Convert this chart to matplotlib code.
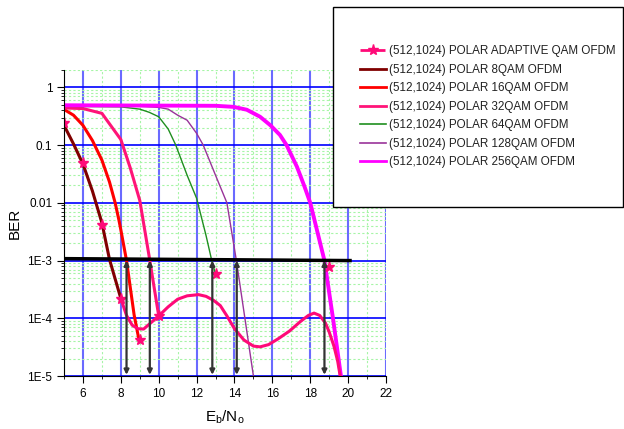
import matplotlib
matplotlib.use('Agg')
import matplotlib.pyplot as plt
from matplotlib.lines import Line2D
from matplotlib.patches import Rectangle

plt.rcParams['font.family'] = ['Liberation Sans', 'DejaVu Sans']

# --- data ---
qam8_x = [5, 5.5, 6, 6.5, 7, 7.4, 8]
qam8_ber = [0.22, 0.105, 0.047, 0.016, 0.0045, 1.05e-3, 2.2e-4]

qam16_x = [5, 5.5, 6, 6.5, 7, 7.4, 7.7, 7.9, 8.0, 8.3, 8.7, 8.96]
qam16_ber = [0.415, 0.33, 0.22, 0.12, 0.055, 0.023, 0.01, 5.0e-3, 3.4e-3, 1.0e-3, 1.15e-4, 4.2e-5]

qam32_x = [5, 6, 7, 8, 8.5, 9, 9.5, 10]
qam32_ber = [0.44, 0.43, 0.355, 0.125, 0.04, 0.011, 1.15e-3, 1.1e-4]

qam64_x = [5, 8, 9, 9.5, 10, 10.5, 10.9, 11.5, 12, 12.5, 12.8, 13]
qam64_ber = [0.47, 0.46, 0.42, 0.37, 0.31, 0.19, 0.1, 0.03, 0.012, 2.7e-3, 1.0e-3, 5.8e-4]

qam128_x = [5, 9, 10, 10.5, 11, 11.5, 12, 12.35, 13, 13.6, 14.1, 14.55, 15]
qam128_ber = [0.47, 0.47, 0.45, 0.42, 0.33, 0.27, 0.16, 0.1, 0.03, 0.01, 1.0e-3, 1.0e-4, 1.0e-5]

qam256_x = [5, 13, 13.95, 14.65, 15.35, 15.9, 16.4, 16.75, 17.3, 17.7, 18.0, 18.75, 19.2, 19.62]
qam256_ber = [0.49, 0.48, 0.46, 0.41, 0.31, 0.22, 0.15, 0.1, 0.042, 0.019, 0.01, 1.0e-3, 1.0e-4, 1.0e-5]

adapt_x = [8.0, 8.3, 8.6, 8.9, 9.2, 9.5, 10.0, 10.5, 11.0, 11.5, 12.1, 12.5, 12.9, 13.25,
           13.6, 14.0, 14.5, 15.0, 15.35, 15.8, 16.3, 16.9, 17.5, 17.9, 18.2, 18.5, 18.8,
           19.0, 19.25, 19.45, 19.58]
adapt_ber = [2.2e-4, 1.12e-4, 7.6e-5, 6.6e-5, 6.5e-5, 7.9e-5, 1.1e-4, 1.58e-4, 2.14e-4, 2.45e-4,
             2.57e-4, 2.4e-4, 2.04e-4, 1.66e-4, 1.1e-4, 6.6e-5, 4.2e-5, 3.3e-5, 3.2e-5, 3.5e-5,
             4.4e-5, 6.0e-5, 8.9e-5, 1.12e-4, 1.23e-4, 1.12e-4, 8.3e-5, 5.8e-5, 3.3e-5, 1.8e-5, 1.0e-5]

star_x = [5, 6, 7, 8, 9, 10, 13, 19]
star_ber = [0.24, 0.049, 0.0042, 2.2e-4, 4.2e-5, 1.1e-4, 5.8e-4, 7.8e-4]

target_x = [5, 20.1]
target_ber = [1.08e-3, 1.0e-3]
arrow_x = [8.3, 9.53, 12.83, 14.12, 18.75]

labels = ['(512,1024) POLAR ADAPTIVE QAM OFDM', '(512,1024) POLAR 8QAM OFDM',
          '(512,1024) POLAR 16QAM OFDM', '(512,1024) POLAR 32QAM OFDM',
          '(512,1024) POLAR 64QAM OFDM', '(512,1024) POLAR 128QAM OFDM',
          '(512,1024) POLAR 256QAM OFDM']
x_ticks = [6, 8, 10, 12, 14, 16, 18, 20, 22]
y_ticks = [1, 0.1, 0.01, 1e-3, 1e-4, 1e-5]
y_tick_labels = ['1', '0.1', '0.01', '1E-3', '1E-4', '1E-5']

c_adapt = '#ff0a78'
c8, c16, c32, c64, c128, c256 = '#800000', '#ff0000', '#ff1478', '#1f8f1f', '#993399', '#ff00ff'

fig = plt.figure(figsize=(6.24, 4.29), dpi=100)
ax = fig.add_axes([0.1026, 0.1235, 0.516, 0.7133])
ax.set_yscale('log')
ax.set_xlim(5, 22)
ax.set_ylim(1e-5, 2)

# grid
ax.set_xticks(x_ticks)
ax.set_xticks(range(5, 23, 2), minor=True)
ax.set_yticks(y_ticks)
ax.set_yticklabels(y_tick_labels)
ax.xaxis.grid(True, which='major', color='#6a6aff', lw=1.5, zorder=0)
ax.yaxis.grid(True, which='major', color='#0000ff', lw=1.2, zorder=0)
ax.grid(True, which='minor', color='#a6f5a6', lw=0.8, ls=(0, (2, 2)), zorder=0)
ax.set_axisbelow(True)

ax.plot(qam8_x, qam8_ber, color=c8, lw=2.2)
ax.plot(qam16_x, qam16_ber, color=c16, lw=2.2)
ax.plot(qam32_x, qam32_ber, color=c32, lw=2.2)
ax.plot(qam64_x, qam64_ber, color=c64, lw=1.0)
ax.plot(qam128_x, qam128_ber, color=c128, lw=1.0)
ax.plot(qam256_x, qam256_ber, color=c256, lw=2.8)
ax.plot(adapt_x, adapt_ber, color=c_adapt, lw=2.2)
ax.plot(star_x, star_ber, ls='none', marker='*', ms=8, color=c_adapt, mec=c_adapt)

ax.plot(target_x, target_ber, color='black', lw=2.5)
for xv in arrow_x:
    ax.annotate('', xy=(xv, 1.05e-5), xytext=(xv, 1.0e-3),
                arrowprops=dict(arrowstyle='<|-|>', color='#333333', lw=1.6,
                                mutation_scale=7, shrinkA=0, shrinkB=0))

for s in ['top', 'right']:
    ax.spines[s].set_visible(False)
ax.tick_params(which='major', direction='out', length=5, labelsize=8.5, colors='black')
ax.tick_params(which='minor', direction='out', length=2.5)
ax.set_ylabel('BER', fontsize=11, labelpad=4)
ax.set_xlabel(r'E$_\mathregular{b}$/N$_\mathregular{o}$', fontsize=11, labelpad=6)

# legend box
fig.add_artist(Rectangle((0.5337, 0.5175), 0.4647, 0.4662, transform=fig.transFigure,
                         facecolor='white', edgecolor='black', lw=1.0, zorder=4))
handles = [Line2D([], [], color=c_adapt, lw=2, ls='--', marker='*', ms=8),
           Line2D([], [], color=c8, lw=2),
           Line2D([], [], color=c16, lw=2),
           Line2D([], [], color=c32, lw=2),
           Line2D([], [], color=c64, lw=1.2),
           Line2D([], [], color=c128, lw=1.2),
           Line2D([], [], color=c256, lw=2)]
leg = fig.legend(handles, labels, loc='center left', bbox_to_anchor=(0.568, 0.751),
                 frameon=False, fontsize=8.4, borderpad=0, handlelength=2.2,
                 handletextpad=0.25, labelspacing=0.56)
leg.set_zorder(5)
for t in leg.get_texts():
    t.set_color('#222222')

fig.savefig('out.png', dpi=100)
